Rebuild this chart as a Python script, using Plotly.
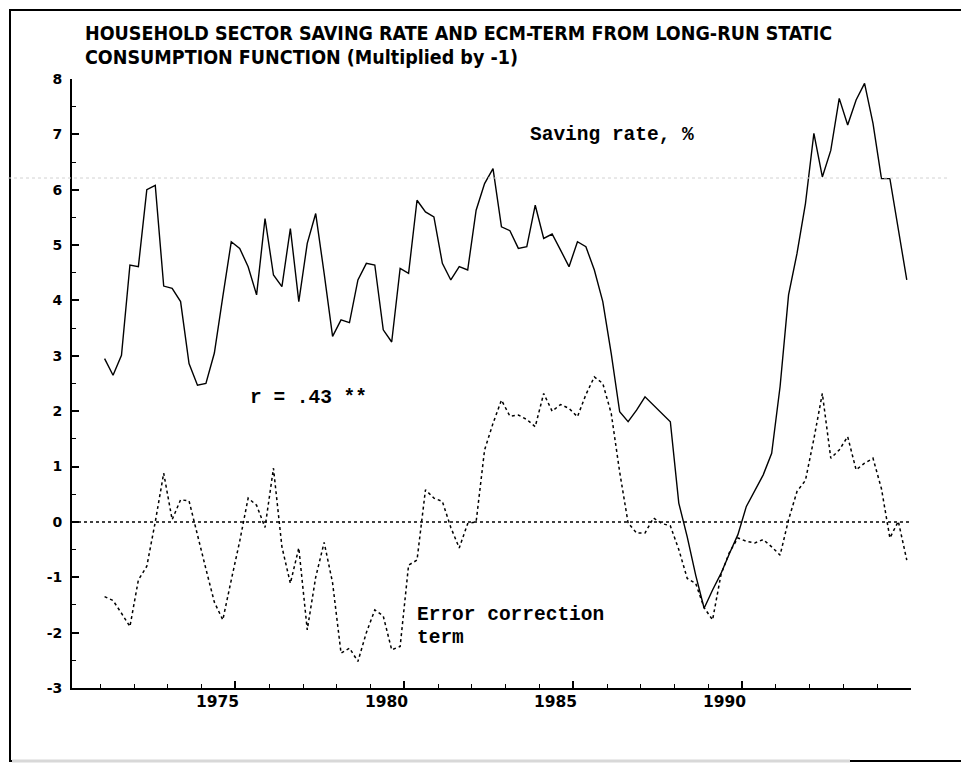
import plotly.graph_objects as go

# ---- data (quarterly, 1971Q1 .. 1994Q4) ----
years = [y for y in range(1971, 1995) for _ in range(4)]
quarters = [q for _ in range(1971, 1995) for q in (1, 2, 3, 4)]

saving_rate = [
    2.95, 2.65, 3.01, 4.64, 4.61, 6.00, 6.08, 4.26, 4.22, 3.98, 2.86, 2.47,
    2.50, 3.05, 4.07, 5.06, 4.94, 4.61, 4.10, 5.48, 4.46, 4.25, 5.30, 3.98,
    5.03, 5.57, 4.49, 3.35, 3.65, 3.60, 4.37, 4.67, 4.64, 3.47, 3.25, 4.58,
    4.49, 5.81, 5.60, 5.51, 4.67, 4.37, 4.61, 4.55, 5.63, 6.11, 6.38, 5.33,
    5.26, 4.94, 4.97, 5.72, 5.12, 5.20, 4.91, 4.61, 5.06, 4.97, 4.55, 3.98,
    3.04, 1.99, 1.81, 2.02, 2.26, 2.11, 1.96, 1.81, 0.34, -0.27, -0.96, -1.56,
    -1.23, -0.93, -0.57, -0.23, 0.28, 0.58, 0.85, 1.24, 2.45, 4.10, 4.85, 5.75,
    7.02, 6.23, 6.71, 7.65, 7.17, 7.62, 7.92, 7.20, 6.20, 6.20, 5.27, 4.37,
]

ecm_term = [
    -1.35, -1.42, -1.65, -1.89, -1.05, -0.80, 0.00, 0.88, 0.04, 0.40, 0.38, -0.25,
    -0.85, -1.45, -1.77, -1.05, -0.35, 0.43, 0.30, -0.10, 0.97, -0.45, -1.11, -0.47,
    -1.95, -1.00, -0.37, -1.10, -2.37, -2.28, -2.52, -2.00, -1.59, -1.70, -2.31, -2.25,
    -0.78, -0.69, 0.58, 0.43, 0.37, -0.10, -0.47, -0.03, 0.00, 1.30, 1.78, 2.20,
    1.91, 1.93, 1.85, 1.72, 2.32, 2.00, 2.12, 2.05, 1.90, 2.30, 2.62, 2.50,
    1.96, 0.90, -0.02, -0.20, -0.20, 0.07, -0.03, -0.07, -0.50, -1.02, -1.11, -1.55,
    -1.77, -0.95, -0.55, -0.29, -0.35, -0.38, -0.32, -0.45, -0.60, 0.04, 0.55, 0.75,
    1.50, 2.32, 1.15, 1.30, 1.54, 0.94, 1.06, 1.15, 0.60, -0.29, 0.01, -0.69,
]

x_tick_years = [1975, 1980, 1985, 1990, 1995]
y_tick_values = [8, 7, 6, 5, 4, 3, 2, 1, 0, -1, -2, -3]

title_lines = [
    "HOUSEHOLD SECTOR SAVING RATE AND ECM-TERM FROM LONG-RUN STATIC",
    "CONSUMPTION FUNCTION (Multiplied by -1)",
]

t = [y + (q - 0.5) / 4 for y, q in zip(years, quarters)]

# ---- layout geometry (page offset of 8px from default body margin) ----
OFF = 8
W, H = 969 - OFF, 771 - 2 * OFF
ML, MT = 72 - OFF, 79 - OFF
MR = W - (911 - OFF)
MB = H - (688 - OFF)
PW, PH = W - ML - MR, H - MT - MB


def px(xpage):
    return (xpage - OFF - ML) / PW


def py(ypage):
    return (H - MB - (ypage - OFF)) / PH


X0, X1 = 1970.16, 1995.0

fig = go.Figure()
fig.add_trace(go.Scatter(x=t, y=saving_rate, mode="lines",
                         line=dict(color="black", width=1.4), name="Saving rate",
                         showlegend=False, hoverinfo="skip"))
fig.add_trace(go.Scatter(x=t, y=ecm_term, mode="lines",
                         line=dict(color="black", width=1.5, dash="dot"), name="ECM",
                         showlegend=False, hoverinfo="skip"))

mono = "Liberation Mono, DejaVu Sans Mono, Courier New, monospace"
narrow = "Liberation Sans Narrow, DejaVu Sans Condensed, Arial Narrow, sans-serif"
digits = "DejaVu Sans, Verdana, sans-serif"

shapes = [
    # zero line
    dict(type="line", xref="x", yref="y", x0=X0, x1=X1, y0=0, y1=0,
         line=dict(color="black", width=1.5, dash="dot")),
    # faint scan artifact line
    dict(type="line", xref="paper", yref="paper", x0=px(8), x1=px(950),
         y0=py(178), y1=py(178), line=dict(color="#d2d2d2", width=1, dash="dot")),
    # frame round the whole picture
    dict(type="rect", xref="paper", yref="paper", x0=px(10), x1=px(962),
         y0=py(10), y1=py(761), line=dict(color="black", width=2),
         fillcolor="rgba(0,0,0,0)", layer="below"),
    # faded lower edge of the frame (as in the scan)
    dict(type="line", xref="paper", yref="paper", x0=px(12), x1=px(850),
         y0=py(761), y1=py(761), line=dict(color="#d8d8d8", width=3)),
]

annotations = []
for i, line in enumerate(title_lines):
    annotations.append(dict(text="<b>" + line + "</b>", xref="paper", yref="paper",
                            x=px(83), y=py(34 + 24 * i), xanchor="left", yanchor="middle",
                            showarrow=False, font=dict(family=narrow, size=19.5, color="black")))

annotations += [
    dict(text="<b>Saving rate, %</b>", xref="paper", yref="paper", x=px(612), y=py(135),
         xanchor="center", yanchor="middle", showarrow=False,
         font=dict(family=mono, size=19.5, color="black")),
    dict(text="<b>r = .43 **</b>", xref="paper", yref="paper", x=px(308), y=py(398),
         xanchor="center", yanchor="middle", showarrow=False,
         font=dict(family=mono, size=19.5, color="black")),
    dict(text="<b>Error correction</b>", xref="paper", yref="paper", x=px(415), y=py(615),
         xanchor="left", yanchor="middle", showarrow=False,
         font=dict(family=mono, size=19.5, color="black")),
    dict(text="<b>term</b>", xref="paper", yref="paper", x=px(415), y=py(638),
         xanchor="left", yanchor="middle", showarrow=False,
         font=dict(family=mono, size=19.5, color="black")),
]

for yr in x_tick_years:
    annotations.append(dict(text="<b>%d</b>" % yr, xref="x", yref="paper",
                            x=yr + 0.17, y=py(702), xanchor="right", yanchor="middle",
                            showarrow=False, font=dict(family=digits, size=15.5, color="black")))

fig.update_layout(
    width=W, height=H,
    margin=dict(l=ML, r=MR, t=MT, b=MB, pad=0),
    paper_bgcolor="white", plot_bgcolor="white",
    showlegend=False,
    shapes=shapes,
    annotations=annotations,
    xaxis=dict(range=[X0, X1], showgrid=False, zeroline=False,
               showline=True, linecolor="black", linewidth=2,
               ticks="inside", ticklen=7, tickwidth=1.5, tickcolor="black",
               tickmode="array", tickvals=x_tick_years, showticklabels=False,
               minor=dict(dtick=1, tick0=1975, ticks="inside", ticklen=4,
                          tickwidth=1.2, tickcolor="black")),
    yaxis=dict(range=[-3, 8], showgrid=False, zeroline=False,
               showline=True, linecolor="black", linewidth=2,
               ticks="inside", ticklen=7, tickwidth=1.5, tickcolor="black",
               tickmode="array", tickvals=y_tick_values,
               ticktext=["<b>%d</b>" % v for v in y_tick_values],
               tickfont=dict(family=digits, size=14, color="black"),
               ticklabelstandoff=5,
               minor=dict(dtick=0.5, tick0=0, ticks="inside", ticklen=4,
                          tickwidth=1.2, tickcolor="black")),
)

fig.write_html("out.html")
